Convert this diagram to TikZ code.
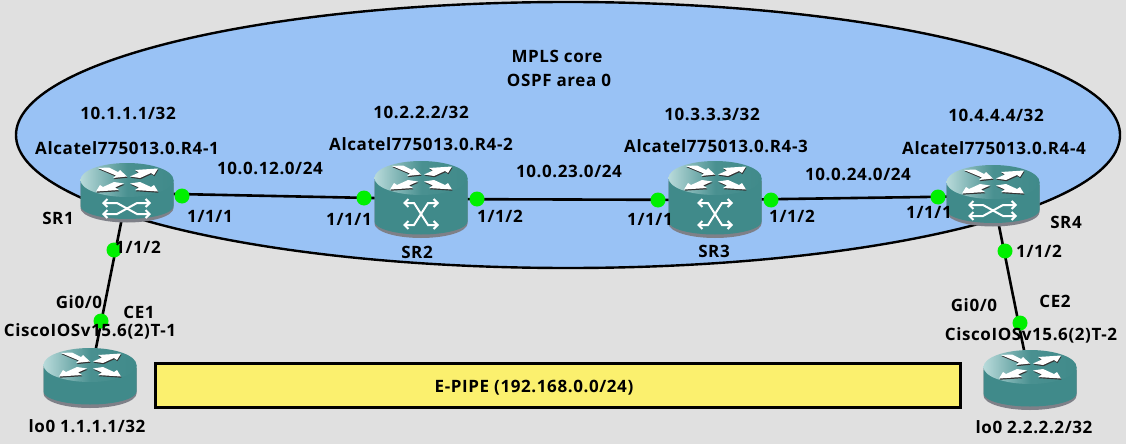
\documentclass[tikz,border=0pt]{standalone}
\usepackage{fontspec}
\setmainfont{Open Sans}[LetterSpace=3.5]
\usetikzlibrary{arrows.meta,shapes.geometric}
\definecolor{bgc}{HTML}{E0E0E0}
\definecolor{corec}{HTML}{99C2F5}
\definecolor{bodyc}{HTML}{408A8A}
\definecolor{lightc}{HTML}{B8DADA}
\definecolor{shadc}{HTML}{7E8088}
\definecolor{epipec}{HTML}{FBF06E}
\definecolor{dotc}{HTML}{00F000}
\tikzset{
  x=1pt,y=-1pt,
  lab/.style={font=\fontsize{17}{20}\selectfont\bfseries,text=black,inner sep=0pt},
  dotn/.style={circle,fill=dotc,draw=none,minimum size=15pt,inner sep=0pt},
  link/.style={draw=black,line width=2.6pt},
  xarrow/.style={draw=white,line width=2pt,{Straight Barb[length=4pt,width=8pt]}-{Straight Barb[length=4pt,width=8pt]}},
}
\newcommand{\rpoly}[1]{%
  \fill[black!80,shift={(.5,1.2)}] #1 -- cycle;
  \fill[white] #1 -- cycle;}
% name, cx, y of top-ellipse centre, body height
\newcommand{\routerbody}[4]{%
  \node[inner sep=0pt,minimum width=93pt,minimum height=30pt+#4pt] (#1) at (#2,#3+#4/2) {};
  \begin{scope}[shift={(#2,#3)}]
    \fill[shadc] (-46.5,3) -- (-46.5,#4+2) arc[x radius=46.5,y radius=14.5,start angle=180,end angle=0] -- (46.5,3) -- cycle;
    \fill[bodyc] (-46.5,0) -- (-46.5,#4) arc[x radius=46.5,y radius=13,start angle=180,end angle=0] -- (46.5,0) -- cycle;
    \shade[left color=lightc,right color=bodyc,middle color=bodyc!92!lightc] (0,0) ellipse[x radius=46.5,y radius=17];
    \rpoly{(-29,-12) -- (-18,-12.5) -- (-9,-8) -- (-7,-10) -- (0,-3.5) -- (-14,-2) -- (-11,-4.5)}
    \rpoly{(3,-3.5) -- (12,-7.5) -- (8,-10) -- (31,-11.5) -- (27,-5) -- (24,-7) -- (13,-2)}
    \rpoly{(-3,3.5) -- (-12,7.5) -- (-8,10) -- (-31,11.5) -- (-27,5) -- (-24,7) -- (-13,2)}
    \rpoly{(3,3.5) -- (12,7.5) -- (8,10) -- (31,11.5) -- (27,5) -- (24,7) -- (13,2)}
  \end{scope}}
\newcommand{\flaticon}[2]{%
  \begin{scope}[shift={(#1,#2)}]
    \draw[xarrow] (-25,23) -- (-10,23) -- (10,34) -- (24,34);
    \draw[xarrow] (-25,34) -- (-10,34) -- (10,23) -- (24,23);
  \end{scope}}
\newcommand{\tallicon}[2]{%
  \begin{scope}[shift={(#1,#2)}]
    \draw[xarrow] (-18,25) -- (-7,25) -- (7,47) -- (18,47);
    \draw[xarrow] (-18,47) -- (-7,47) -- (7,25) -- (18,25);
  \end{scope}}
\begin{document}
\begin{tikzpicture}
\useasboundingbox (0,0) rectangle (1126,444);
\fill[bgc] (0,0) rectangle (1126,444);
\node[draw=black,line width=2.4pt,fill=corec,ellipse,inner sep=0pt,minimum width=1104pt,minimum height=266pt] (core) at (568,135) {};
\node[lab] (t1) at (557,56) {MPLS core};
\node[lab] (t2) at (559,80) {OSPF area 0};
\node[lab,fill=epipec,draw=black,line width=3pt,minimum width=805pt,minimum height=44pt] (epipe) at (557.5,385) {};
\node[lab] (epipetxt) at (534,388) {E-PIPE (192.168.0.0/24)};
% anchor coordinates for links
\coordinate (c1) at (127,193);
\coordinate (c2) at (421,199);
\coordinate (c3) at (715,200);
\coordinate (c4) at (993,196);
\coordinate (c5) at (90,378);
\coordinate (c6) at (1030,380);
\draw[link] (c1) -- (c2);
\draw[link] (c2) -- (c3);
\draw[link] (c3) -- (c4);
\draw[link] (c1) -- (c5);
\draw[link] (c4) -- (c6);
\routerbody{sr1}{127}{180}{26}\flaticon{127}{180}
\routerbody{sr2}{421}{178}{43.5}\tallicon{421}{178}
\routerbody{sr3}{715}{178}{43.5}\tallicon{715}{178}
\routerbody{sr4}{993}{182}{28}\flaticon{993}{182}
\routerbody{ce1}{90}{365}{26.5}
\routerbody{ce2}{1030}{367}{26.5}
\node[dotn] (d1) at (182,196) {};
\node[dotn] (d2) at (364,198) {};
\node[dotn] (d3) at (477,199) {};
\node[dotn] (d4) at (658,200) {};
\node[dotn] (d5) at (771,200) {};
\node[dotn] (d6) at (938,197) {};
\node[dotn] (d7) at (114,250) {};
\node[dotn] (d8) at (101,321) {};
\node[dotn] (d9) at (1005,251) {};
\node[dotn] (d10) at (1020,323) {};
\node[lab] at (128,113) {10.1.1.1/32};
\node[lab] at (127,148) {Alcatel775013.0.R4-1};
\node[lab] at (58,218) {SR1};
\node[lab] at (210,216) {1/1/1};
\node[lab] at (270,168) {10.0.12.0/24};
\node[lab] at (138,247) {1/1/2};
\node[lab] at (79,302) {Gi0/0};
\node[lab] at (139,312) {CE1};
\node[lab] at (90,331) {CiscoIOSv15.6(2)T-1};
\node[lab] at (87,426) {lo0 1.1.1.1/32};
\node[lab] at (421,112) {10.2.2.2/32};
\node[lab] at (421,144) {Alcatel775013.0.R4-2};
\node[lab] at (349,219) {1/1/1};
\node[lab] at (500,216) {1/1/2};
\node[lab] at (417,252) {SR2};
\node[lab] at (569,171) {10.0.23.0/24};
\node[lab] at (712,114) {10.3.3.3/32};
\node[lab] at (716,146) {Alcatel775013.0.R4-3};
\node[lab] at (650,219) {1/1/1};
\node[lab] at (792,216) {1/1/2};
\node[lab] at (714,251) {SR3};
\node[lab] at (858,174) {10.0.24.0/24};
\node[lab] at (996,115) {10.4.4.4/32};
\node[lab] at (994,148) {Alcatel775013.0.R4-4};
\node[lab] at (929,212) {1/1/1};
\node[lab] at (1066,222) {SR4};
\node[lab] at (1039,251) {1/1/2};
\node[lab] at (974,305) {Gi0/0};
\node[lab] at (1055,301) {CE2};
\node[lab] at (1031,335) {CiscoIOSv15.6(2)T-2};
\node[lab] at (1034,427) {lo0 2.2.2.2/32};
\end{tikzpicture}
\end{document}
